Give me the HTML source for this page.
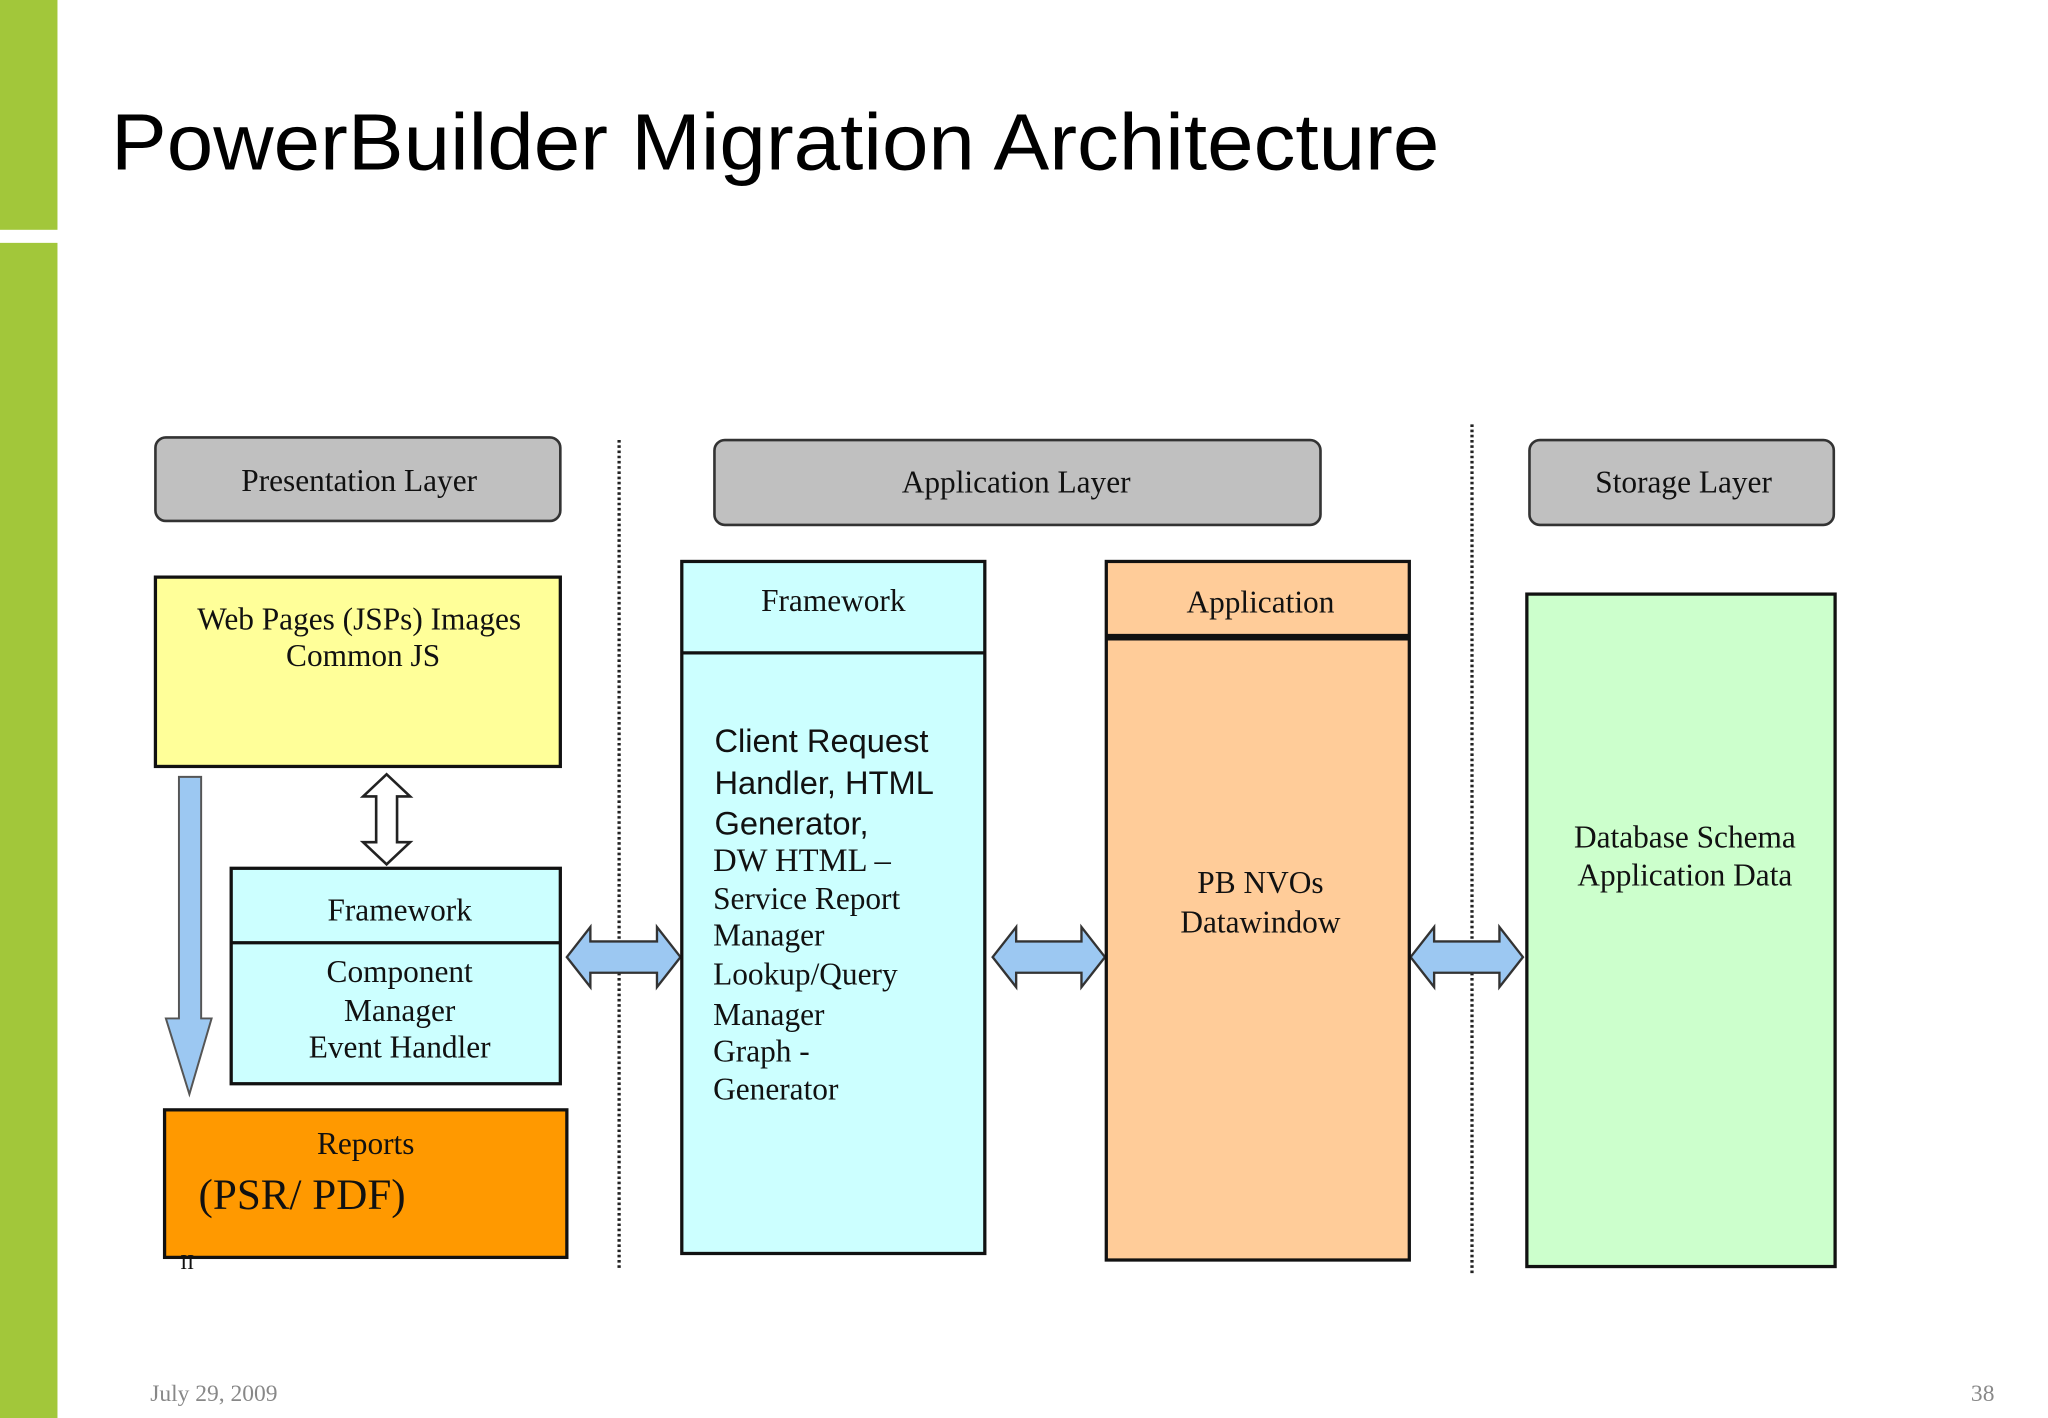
<!DOCTYPE html>
<html><head><meta charset="utf-8"><style>
html,body{margin:0;padding:0;background:#fff;overflow:hidden}
svg{display:block}
.s{font-family:"Liberation Serif",serif;fill:#111}
.a{font-family:"Liberation Sans",sans-serif;fill:#111}
</style></head><body>
<svg width="2048" height="1418" viewBox="0 0 1568 1086" preserveAspectRatio="none" xmlns="http://www.w3.org/2000/svg">
<rect x="0" y="0" width="1568" height="1086" fill="#fff"/>
<rect x="0" y="0" width="44" height="176" fill="#a2c73a"/>
<rect x="0" y="186" width="44" height="900" fill="#a2c73a"/>
<text x="85" y="130" font-family="Liberation Sans, sans-serif" font-size="61" fill="#000" textLength="1017" lengthAdjust="spacingAndGlyphs">PowerBuilder Migration Architecture</text>

<rect x="119" y="335" width="310" height="64" rx="8" fill="#c0c0c0" stroke="#333" stroke-width="2"/>
<text class="s" x="275" y="376" font-size="24" text-anchor="middle">Presentation Layer</text>
<rect x="547" y="337" width="464" height="65" rx="8" fill="#c0c0c0" stroke="#333" stroke-width="2"/>
<text class="s" x="778" y="377" font-size="24" text-anchor="middle">Application Layer</text>
<rect x="1171" y="337" width="233" height="65" rx="8" fill="#c0c0c0" stroke="#333" stroke-width="2"/>
<text class="s" x="1289" y="377" font-size="24" text-anchor="middle">Storage Layer</text>

<line x1="474" y1="337" x2="474" y2="972" stroke="#222" stroke-width="2.5" stroke-dasharray="2,2"/>
<line x1="1127" y1="325" x2="1127" y2="975" stroke="#222" stroke-width="2.5" stroke-dasharray="2,2"/>

<rect x="119" y="442" width="310" height="145" fill="#ffff99" stroke="#111" stroke-width="2.5"/>
<text class="s" x="275" y="482" font-size="24" text-anchor="middle">Web Pages (JSPs) Images</text>
<text class="s" x="278" y="510" font-size="24" text-anchor="middle">Common JS</text>

<path d="M137 595 H154 V780 H162 L145 838 L127 780 H137 Z" fill="#9cc8f2" stroke="#555" stroke-width="1.5"/>
<path d="M296 593 L314 610 H304 V645 H314 L296 662 L278 645 H288 V610 H278 Z" fill="#fff" stroke="#222" stroke-width="2"/>

<rect x="177" y="665" width="252" height="165" fill="#ccffff" stroke="#111" stroke-width="2.5"/>
<line x1="177" y1="722" x2="429" y2="722" stroke="#111" stroke-width="2.5"/>
<text class="s" x="306" y="705" font-size="24" text-anchor="middle">Framework</text>
<text class="s" x="306" y="752" font-size="24" text-anchor="middle">Component</text>
<text class="s" x="306" y="782" font-size="24" text-anchor="middle">Manager</text>
<text class="s" x="306" y="810" font-size="24" text-anchor="middle">Event Handler</text>

<rect x="126" y="850" width="308" height="113" fill="#ff9900" stroke="#111" stroke-width="2.5"/>
<text class="s" x="280" y="884" font-size="24" text-anchor="middle">Reports</text>
<text class="s" x="152" y="926" font-size="33">(PSR/  PDF)</text>
<text class="s" x="138" y="972" font-size="16">II</text>

<g fill="#9cc8f2" stroke="#333" stroke-width="1.8">
<path d="M434 733 L452 710 V721 H503 V710 L521 733 L503 756 V745 H452 V756 Z"/>
<path d="M760 733 L778 710 V721 H828 V710 L846 733 L828 756 V745 H778 V756 Z"/>
<path d="M1080 733 L1098 710 V721 H1148 V710 L1166 733 L1148 756 V745 H1098 V756 Z"/>
</g>

<rect x="522" y="430" width="232" height="530" fill="#ccffff" stroke="#111" stroke-width="2.5"/>
<line x1="522" y1="500" x2="754" y2="500" stroke="#111" stroke-width="2.5"/>
<text class="s" x="638" y="468" font-size="24" text-anchor="middle">Framework</text>
<text class="a" x="547" y="576" font-size="25">Client Request</text>
<text class="a" x="547" y="608" font-size="25">Handler, HTML</text>
<text class="a" x="547" y="639" font-size="25">Generator,</text>
<text class="s" x="546" y="667" font-size="25">DW HTML –</text>
<text class="s" x="546" y="696" font-size="24">Service Report</text>
<text class="s" x="546" y="724" font-size="24">Manager</text>
<text class="s" x="546" y="754" font-size="24">Lookup/Query</text>
<text class="s" x="546" y="785" font-size="24">Manager</text>
<text class="s" x="546" y="813" font-size="24">Graph -</text>
<text class="s" x="546" y="842" font-size="24">Generator</text>

<rect x="847" y="430" width="232" height="535" fill="#ffcc99" stroke="#111" stroke-width="2.5"/>
<line x1="847" y1="488" x2="1079" y2="488" stroke="#111" stroke-width="5"/>
<text class="s" x="965" y="469" font-size="24" text-anchor="middle">Application</text>
<text class="s" x="965" y="684" font-size="24" text-anchor="middle">PB NVOs</text>
<text class="s" x="965" y="714" font-size="24" text-anchor="middle">Datawindow</text>

<rect x="1169" y="455" width="236" height="515" fill="#ccffcc" stroke="#111" stroke-width="2.5"/>
<text class="s" x="1290" y="649" font-size="24" text-anchor="middle">Database Schema</text>
<text class="s" x="1290" y="678" font-size="24" text-anchor="middle">Application Data</text>

<text class="s" x="115" y="1073" font-size="18" style="fill:#888">July 29, 2009</text>
<text class="s" x="1527" y="1073" font-size="18" text-anchor="end" style="fill:#888">38</text>
</svg>
</body></html>
